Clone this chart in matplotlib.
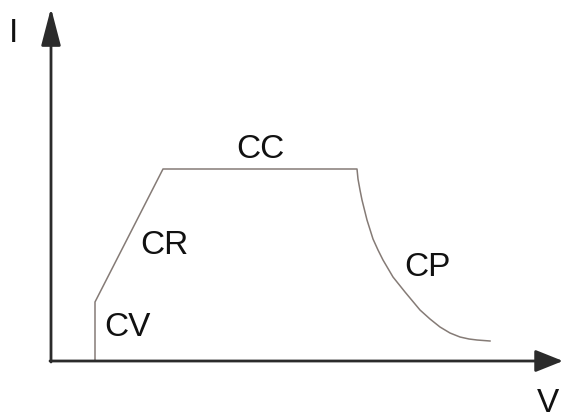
import matplotlib
matplotlib.use("Agg")
import matplotlib.pyplot as plt

# Operating curve (V, I) (arbitrary units)
cv_v = [44, 44]
cv_i = [0, 59]
cr_v = [44, 112]
cr_i = [59, 192]
cc_v = [112, 306]
cc_i = [192, 192]
cp_v = [306, 307, 309, 311, 316, 322, 327, 332, 342, 354, 369, 379, 389, 399, 409, 418, 426, 439]
cp_i = [192, 182, 171, 161, 141, 122, 111, 101, 84, 69, 51, 42, 34, 28, 24, 22, 21, 20]

labels = ["CV", "CR", "CC", "CP"]
label_pos_v = [76, 113, 209, 376]
label_pos_i = [34, 116, 211, 94]
axis_labels = ["I", "V"]

fig = plt.figure(figsize=(5.64, 4.18), dpi=100)
ax = fig.add_axes([0, 0, 1, 1])
ax.set_xlim(-51, 513)
ax.set_ylim(-57, 361)
ax.axis("off")

curve_color = "#857b76"
v_all = cv_v + cr_v[1:] + cc_v[1:] + cp_v[1:]
i_all = cv_i + cr_i[1:] + cc_i[1:] + cp_i[1:]
ax.plot(v_all, i_all, color=curve_color, lw=1.1, solid_joinstyle="round")

axcol = "#2b2b2b"
ax.annotate("", xy=(0, 353), xytext=(0, -1),
            arrowprops=dict(arrowstyle="-|>,head_length=2.3,head_width=0.6",
                            mutation_scale=10, color=axcol, lw=2.0,
                            shrinkA=0, shrinkB=0))
ax.annotate("", xy=(512, 0), xytext=(-1, 0),
            arrowprops=dict(arrowstyle="-|>,head_length=1.7,head_width=0.68",
                            mutation_scale=10, color=axcol, lw=2.0,
                            shrinkA=0, shrinkB=0))

font = dict(family=["Liberation Sans", "DejaVu Sans"], fontsize=24, color="#111111")
for t, x, y in zip(labels, label_pos_v, label_pos_i):
    ax.text(x, y, t, ha="center", va="center", **font)

ax.text(-37, 328, axis_labels[0], ha="center", va="center", **font)
ax.text(497, -42, axis_labels[1], ha="center", va="center", **font)

fig.savefig("out.png", dpi=100)
